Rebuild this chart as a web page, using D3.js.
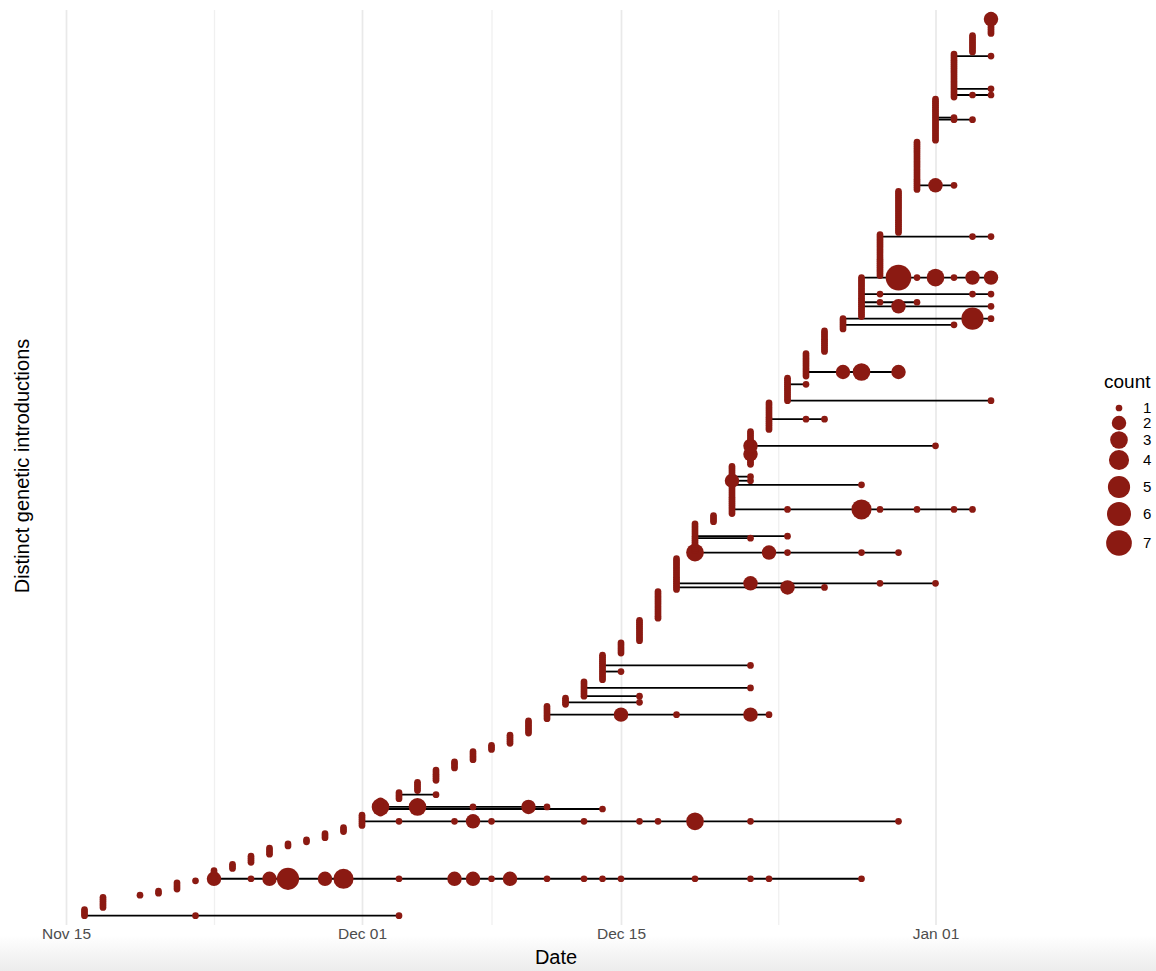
<!DOCTYPE html>
<html>
<head>
<meta charset="utf-8">
<script src="https://cdn.jsdelivr.net/npm/d3@7"></script>
<style>
  body { margin: 0; background: #fff; }
  text { font-family: "Liberation Sans", Arial, sans-serif; }
</style>
</head>
<body>
<div id="chart"></div>
<script>
// Introductions grouped by the date they were first sampled (bottom to top).
// A number = that many introductions sampled once only, on the group date.
// A string = one introduction, "month-day:count" for every date it was sampled.
var groupDates = [
  "11-16", "11-17", "11-19", "11-20", "11-21", "11-22", "11-23", "11-24", "11-25",
  "11-26", "11-27", "11-28", "11-29", "11-30", "12-01", "12-02", "12-03", "12-04",
  "12-05", "12-06", "12-07", "12-08", "12-09", "12-10", "12-11", "12-12", "12-13",
  "12-14", "12-15", "12-16", "12-17", "12-18", "12-19", "12-20", "12-21", "12-22",
  "12-23", "12-24", "12-25", "12-26", "12-27", "12-28", "12-29", "12-30", "12-31",
  "01-01", "01-02", "01-03", "01-04"
];

var groupRows = [
  ["11-16:1 11-22:1 12-03:1", 3],
  [6],
  [1],
  [2],
  [4],
  [1],
  ["11-23:2 11-25:1 11-26:2 11-27:5 11-29:2 11-30:4 12-03:1 12-06:2 12-07:2 12-08:1 12-09:2 12-11:1 12-13:1 12-14:1 12-15:1 12-19:1 12-22:1 12-23:1 12-28:1", 4],
  [3],
  [4],
  [4],
  [2],
  [2],
  [3],
  [3],
  [2, "12-01:1 12-03:1 12-06:1 12-07:2 12-08:1 12-13:1 12-16:1 12-17:1 12-19:3 12-22:1 12-30:1", 3],
  [2, "12-02:1 12-14:1", "12-02:3 12-04:3 12-07:1 12-10:2 12-11:1", 3],
  [2, "12-03:1 12-05:1", 1],
  [5],
  [6],
  [4],
  [5],
  [3],
  [5],
  [7],
  [2, "12-11:1 12-15:2 12-18:1 12-22:2 12-23:1", 4],
  [1, "12-12:1 12-16:1", 2],
  ["12-13:1 12-16:1", 3, "12-13:1 12-22:1", 3],
  [4, "12-14:1 12-15:1", 2, "12-14:1 12-22:1", 5],
  [6],
  [11],
  [14],
  [1, "12-18:1 12-24:2 12-26:1", 1, "12-18:1 12-22:2 12-29:1 01-01:1", 12],
  [2, "12-19:3 12-23:2 12-24:1 12-28:1 12-30:1", 6, "12-19:1 12-22:1", "12-19:1 12-24:1", 6],
  [4],
  [2, "12-21:1 12-24:1 12-28:4 12-29:1 12-31:1 01-02:1 01-03:1", 11, "12-21:1 12-28:1", 1, "12-21:2 12-22:1", 1, "12-21:1 12-22:1", 5],
  [5, "12-22:2", 3, "12-22:2 01-01:1", 7],
  [5, "12-23:1 12-25:1 12-26:1", 8],
  ["12-24:1 01-04:1", 7, "12-24:1 12-25:1", 3],
  [2, "12-25:1 12-27:2 12-28:3 12-30:2", 9],
  [11],
  [2, "12-27:1 01-02:1", 2, "12-27:1 01-03:5 01-04:1"],
  [5, "12-28:1 12-30:2 01-04:1", 1, "12-28:1 12-29:1 12-31:1", 3, "12-28:1 12-29:1 01-03:1 01-04:1", 7, "12-28:1 12-30:7 12-31:1 01-01:3 01-02:1 01-03:2 01-04:2"],
  [19, "12-29:1 01-03:1 01-04:1", 1],
  [21],
  [2, "12-31:1 01-01:2 01-02:1", 21],
  [10, "01-01:1 01-02:1 01-03:1", "01-01:1 01-02:1", 9],
  [1, "01-02:1 01-03:1 01-04:1", 2, "01-02:1 01-04:1", 15, "01-02:1 01-04:1", 1],
  [9],
  [7, "01-04:2", 2]
];

var countLevels = [1, 2, 3, 4, 5, 6, 7];
var tickDates = ["2020-11-15", "2020-12-01", "2020-12-15", "2021-01-01"];

// SVG area
var svgWidth = 1156;
var svgHeight = 971;
var panel = { left: 40, right: 1070, top: 10, bottom: 925 };
var pointColor = "#8b1a12";

var parseDate = d3.utcParse("%Y-%m-%d");
function parseMD(md) {
  var year = md.startsWith("01") ? "2021" : "2020";
  return parseDate(year + "-" + md);
}

// Expand the groups into one row per introduction
var rows = [];
groupRows.forEach(function(items, g) {
  var first = parseMD(groupDates[g]);
  items.forEach(function(item) {
    if (typeof item === "number") {
      for (var i = 0; i < item; i++) {
        rows.push([{ date: first, count: 1 }]);
      }
    } else {
      rows.push(item.split(" ").map(function(p) {
        var parts = p.split(":");
        return { date: parseMD(parts[0]), count: +parts[1] };
      }));
    }
  });
});
rows.forEach(function(r, i) {
  r.forEach(function(p) { p.row = i; });
});

var svg = d3.select("#chart")
  .append("svg")
  .attr("width", svgWidth)
  .attr("height", svgHeight);

// faint grey band at the bottom of the screenshot
var grad = svg.append("defs").append("linearGradient")
  .attr("id", "bottomFade")
  .attr("x1", 0).attr("y1", 0).attr("x2", 0).attr("y2", 1);
grad.append("stop").attr("offset", "0%").attr("stop-color", "#ffffff");
grad.append("stop").attr("offset", "100%").attr("stop-color", "#ececec");
svg.append("rect")
  .attr("x", 0).attr("y", 935)
  .attr("width", svgWidth).attr("height", svgHeight - 935)
  .attr("fill", "url(#bottomFade)");

// Scales
var majorTicks = tickDates.map(function(d) { return parseDate(d); });
var xScale = d3.scaleUtc()
  .domain([majorTicks[0], majorTicks[3]])
  .range([66, 935.5]);

var yScale = d3.scaleLinear()
  .domain([0, rows.length - 1])
  .range([915.7, 15]);

var rScale = d3.scalePow().exponent(0.5)
  .domain([0, 6])
  .range([3.35, 12.85]);

// Minor gridlines sit half way between the major ones
var minorTicks = d3.pairs(majorTicks).map(function(p) {
  return new Date((p[0].getTime() + p[1].getTime()) / 2);
});

var gridMinor = svg.append("g")
  .attr("transform", "translate(0," + panel.bottom + ")")
  .call(d3.axisBottom(xScale).tickValues(minorTicks)
    .tickSize(-(panel.bottom - panel.top)).tickFormat(""));
gridMinor.select(".domain").remove();
gridMinor.selectAll("line").attr("stroke", "#f0f0f0").attr("stroke-width", 1.3);

var gridMajor = svg.append("g")
  .attr("transform", "translate(0," + panel.bottom + ")")
  .call(d3.axisBottom(xScale).tickValues(majorTicks)
    .tickSize(-(panel.bottom - panel.top)).tickFormat(""));
gridMajor.select(".domain").remove();
gridMajor.selectAll("line").attr("stroke", "#e9e9e9").attr("stroke-width", 1.7);

// x axis labels
var xAxis = svg.append("g")
  .attr("transform", "translate(0," + panel.bottom + ")")
  .call(d3.axisBottom(xScale).tickValues(majorTicks)
    .tickSize(0).tickPadding(3).tickFormat(d3.utcFormat("%b %d")));
xAxis.select(".domain").remove();
xAxis.selectAll("text")
  .attr("fill", "#4d4d4d")
  .style("font-size", "15.5px")
  .style("font-family", "'Liberation Sans', Arial, sans-serif");

// Lines from first to last sample of each introduction
var multi = rows.filter(function(r) { return r.length > 1; });
svg.append("g")
  .selectAll("line")
  .data(multi)
  .enter()
  .append("line")
  .attr("x1", function(r) { return xScale(r[0].date); })
  .attr("x2", function(r) { return xScale(r[r.length - 1].date); })
  .attr("y1", function(r) { return yScale(r[0].row); })
  .attr("y2", function(r) { return yScale(r[0].row); })
  .attr("stroke", "#000")
  .attr("stroke-width", 1.8);

// Points
var points = [].concat.apply([], rows);
svg.append("g")
  .selectAll("circle")
  .data(points)
  .enter()
  .append("circle")
  .attr("cx", function(p) { return xScale(p.date); })
  .attr("cy", function(p) { return yScale(p.row); })
  .attr("r", function(p) { return rScale(p.count - 1); })
  .attr("fill", pointColor);

// Axis titles
svg.append("text")
  .attr("x", 556)
  .attr("y", 964)
  .attr("text-anchor", "middle")
  .style("font-size", "20px")
  .attr("fill", "#000")
  .text("Date");

svg.append("text")
  .attr("transform", "translate(29,466) rotate(-90)")
  .attr("text-anchor", "middle")
  .style("font-size", "20px")
  .attr("fill", "#000")
  .text("Distinct genetic introductions");

// Legend
var legendY = [408, 423, 440, 460, 487, 514, 543];
var legend = svg.append("g");
legend.append("text")
  .attr("x", 1104)
  .attr("y", 388)
  .style("font-size", "19px")
  .attr("fill", "#000")
  .text("count");

var keys = legend.selectAll("g.key")
  .data(countLevels)
  .enter()
  .append("g")
  .attr("class", "key")
  .attr("transform", function(d, i) { return "translate(1119," + legendY[i] + ")"; });
keys.append("circle")
  .attr("r", function(d) { return rScale(d - 1); })
  .attr("fill", pointColor);
keys.append("text")
  .attr("x", 24)
  .attr("dy", "0.36em")
  .style("font-size", "15px")
  .attr("fill", "#000")
  .text(function(d) { return d; });
</script>
</body>
</html>
